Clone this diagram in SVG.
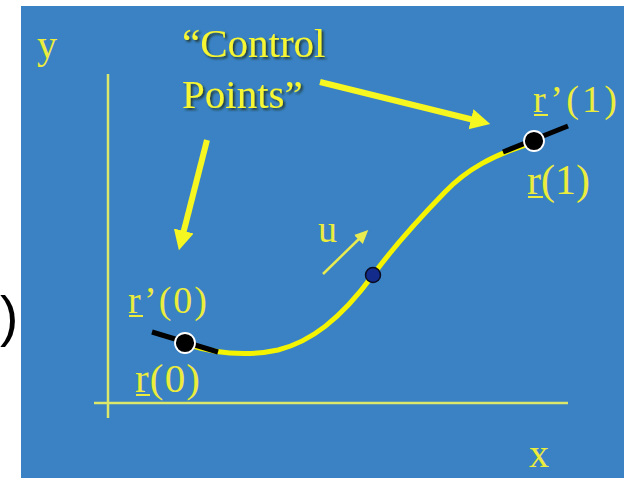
<svg xmlns="http://www.w3.org/2000/svg" width="624" height="478" viewBox="0 0 624 478">
<defs>
<style>
.lbl{font-family:"Liberation Serif","Times New Roman",serif;fill:#ecec3c}
.cp{font-family:"Liberation Serif","Times New Roman",serif;fill:#f6f630;font-size:41px}
.axis{stroke:#dbe86a;stroke-width:2.5;fill:none}
.ul{stroke:#ecec3c;stroke-width:2}
.tan{stroke:#000;stroke-width:5;stroke-linecap:butt}
.pt{fill:#000;stroke:#fff;stroke-width:1.8}
.big{stroke:#f6f620;stroke-width:6;fill:none}
</style>
<filter id="sh" x="-10%" y="-20%" width="120%" height="140%">
<feDropShadow dx="2" dy="2" stdDeviation="0.8" flood-color="#1a2a10" flood-opacity="0.75"/>
</filter>
<marker id="bighead" markerWidth="4" markerHeight="4" refX="1.2" refY="2" orient="auto" markerUnits="strokeWidth">
<path d="M0,0.3 L3.3,2 L0,3.7 Z" fill="#f6f620"/>
</marker>
<marker id="smallhead" markerWidth="6" markerHeight="6" refX="2" refY="3" orient="auto" markerUnits="strokeWidth">
<path d="M0,0.5 L5.5,3 L0,5.5 Z" fill="#e8ec50"/>
</marker>
</defs>
<rect x="0" y="0" width="624" height="478" fill="#fff"/>
<rect x="21" y="6" width="603" height="472" fill="#3a82c3"/>
<text x="0" y="335" font-family="'Liberation Sans',Arial,sans-serif" font-size="55" fill="#000">)</text>

<g id="axes">
<line class="axis" x1="108" y1="74" x2="108" y2="418"/>
<line class="axis" x1="94" y1="403" x2="568" y2="403"/>
<text class="lbl" x="37" y="58" font-size="40">y</text>
<text class="lbl" x="529" y="467" font-size="40">x</text>
</g>

<g id="control-label" filter="url(#sh)">
<text class="cp" x="182" y="57">“Control</text>
<text class="cp" x="182" y="108">Points”</text>
</g>

<g id="connectors">
<line class="big" x1="207" y1="140" x2="182" y2="238" marker-end="url(#bighead)"/>
<line class="big" x1="320" y1="82" x2="478" y2="121" marker-end="url(#bighead)"/>
<line x1="323" y1="274" x2="362" y2="236" stroke="#e8ec50" stroke-width="2.5" marker-end="url(#smallhead)"/>
</g>

<g id="curve">
<path d="M186,344 C220,355 250,356 278,350 C310,342 340,320 373,275 C392,249 410,228 445,192 C466,170 492,155 535,142" stroke="#f4f400" stroke-width="5" fill="none"/>
</g>

<g id="point-r0">
<line class="tan" x1="152" y1="332" x2="218" y2="352"/>
<circle class="pt" cx="185" cy="343" r="10"/>
<text class="lbl" x="128" y="313" font-size="38" textLength="79" lengthAdjust="spacing">r’(0)</text>
<line class="ul" x1="129" y1="316" x2="143" y2="316"/>
<text class="lbl" x="135" y="392" font-size="41" textLength="65" lengthAdjust="spacing">r(0)</text>
<line class="ul" x1="136" y1="395" x2="150" y2="395"/>
</g>

<g id="point-r1">
<line class="tan" x1="503" y1="152" x2="568" y2="126"/>
<circle class="pt" cx="534" cy="141" r="10"/>
<text class="lbl" x="533" y="112" font-size="38" textLength="84" lengthAdjust="spacing">r’(1)</text>
<line class="ul" x1="534" y1="115" x2="548" y2="115"/>
<text class="lbl" x="527" y="194" font-size="42" textLength="63" lengthAdjust="spacing">r(1)</text>
<line class="ul" x1="528" y1="197" x2="543" y2="197"/>
</g>

<g id="point-u">
<circle cx="373" cy="275" r="7.5" fill="#132c8c" stroke="#0a0a20" stroke-width="1.5"/>
<text class="lbl" x="318" y="242" font-size="38">u</text>
</g>
</svg>
